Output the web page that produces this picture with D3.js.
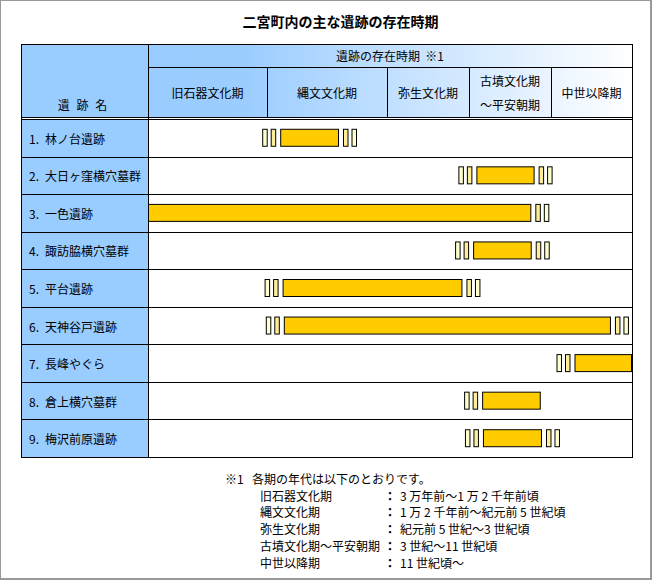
<!DOCTYPE html>
<html><head><meta charset="utf-8">
<script src="https://cdn.jsdelivr.net/npm/d3@7"></script>
<style>
html,body{margin:0;padding:0;background:#fff;}
svg{display:block;}
text{font-family:"Noto Sans CJK JP","Noto Sans",sans-serif;fill:#000;white-space:pre;}
</style></head>
<body>
<svg id="chart" width="652" height="580"></svg>
<script>
// ---- data ----
const title = "二宮町内の主な遺跡の存在時期";
const headerTop = "遺跡の存在時期  ※1";
const nameHeader = "遺 跡 名";
const periods = ["旧石器文化期", "縄文文化期", "弥生文化期", "古墳文化期|～平安朝期", "中世以降期"];
const sites = ["1. 林ノ台遺跡", "2. 大日ヶ窪横穴墓群", "3. 一色遺跡", "4. 諏訪脇横穴墓群",
  "5. 平台遺跡", "6. 天神谷戸遺跡", "7. 長峰やぐら", "8. 倉上横穴墓群", "9. 梅沢前原遺跡"];
// start / end measured in period units (0 = start of 旧石器, 5 = end of 中世以降)
const startVals = [1.11, 3.09, 0.00, 3.05, 1.13, 1.14, 4.29, 3.16, 3.17];
const endVals   = [1.60, 3.80, 3.76, 3.765, 2.92, 4.74, 5.00, 3.875, 3.89];
const startUncertain = [true, true, false, true, true, true, true, true, true];
const endUncertain   = [true, true, true, true, true, true, false, false, true];
const noteMark = "※1";
const noteHead = "各期の年代は以下のとおりです。";
const noteTerms = ["旧石器文化期", "縄文文化期", "弥生文化期", "古墳文化期～平安朝期", "中世以降期"];
const noteRanges = ["3 万年前～1 万 2 千年前頃", "1 万 2 千年前～紀元前 5 世紀頃", "紀元前 5 世紀～3 世紀頃", "3 世紀～11 世紀頃", "11 世紀頃～"];

// ---- layout ----
const svg = d3.select("#chart");
const L = 21, R = 632, T = 44, H1 = 67, H2 = 117, B0 = 119, B = 457, NC = 148;
const colEdges = [148, 267, 387, 469, 551, 632];
const x = d3.scaleLinear().domain(d3.range(colEdges.length)).range(colEdges);
const y = d3.scaleBand().domain(sites).range([B0, B]);
const barH = 18;
const FS = 12;

// frame
svg.append("rect").attr("x", 0.5).attr("y", 0.5).attr("width", 650).attr("height", 578)
  .attr("fill", "#fff").attr("stroke", "#999").attr("stroke-width", 1);
svg.append("line").attr("x1", 651.5).attr("x2", 651.5).attr("y1", 0).attr("y2", 580).attr("stroke", "#999");
svg.append("line").attr("x1", 0).attr("x2", 652).attr("y1", 579.5).attr("y2", 579.5).attr("stroke", "#999");

// title
svg.append("text").attr("x", 340.5).attr("y", 21).attr("text-anchor", "middle")
  .attr("dominant-baseline", "central").attr("font-size", 14).attr("font-weight", "bold").text(title);

// gradient
const defs = svg.append("defs");
const g = defs.append("linearGradient").attr("id", "hg").attr("gradientUnits", "userSpaceOnUse")
  .attr("x1", NC).attr("x2", R).attr("y1", 0).attr("y2", 0);
g.append("stop").attr("offset", "0%").attr("stop-color", "#99ccff");
g.append("stop").attr("offset", "20%").attr("stop-color", "#9ccdff");
g.append("stop").attr("offset", "100%").attr("stop-color", "#ffffff");

// header backgrounds
svg.append("rect").attr("x", NC).attr("y", T).attr("width", R - NC).attr("height", H2 - T).attr("fill", "url(#hg)");
svg.append("rect").attr("x", L).attr("y", T).attr("width", NC - L).attr("height", B - T).attr("fill", "#99ccff");
svg.append("rect").attr("x", NC).attr("y", B0).attr("width", R - NC).attr("height", B - B0).attr("fill", "#fff");
svg.append("rect").attr("x", L).attr("y", H2).attr("width", R - L).attr("height", B0 - H2).attr("fill", "#fff");

// header texts
svg.append("text").attr("x", (NC + R) / 2).attr("y", (T + H1) / 2).attr("text-anchor", "middle")
  .attr("dominant-baseline", "central").attr("font-size", FS).text(headerTop);
svg.append("text").attr("x", (L + NC) / 2 - 1).attr("y", 104).attr("text-anchor", "middle")
  .attr("dominant-baseline", "central").attr("font-size", FS).attr("letter-spacing", 2).text(nameHeader);
periods.forEach((p, i) => {
  const cx = (x(i) + x(i + 1)) / 2;
  const parts = p.split("|");
  parts.forEach((s, j) => {
    const cy = parts.length === 1 ? 92 : (j === 0 ? 80 : 104);
    svg.append("text").attr("x", cx).attr("y", cy).attr("text-anchor", "middle")
      .attr("dominant-baseline", "central").attr("font-size", FS).text(s);
  });
});

// row labels (number, then name)
const lab = svg.append("g").selectAll("text").data(sites).join("text")
  .attr("y", d => y(d) + y.bandwidth() / 2)
  .attr("dominant-baseline", "central").attr("font-size", FS);
lab.append("tspan").attr("x", 29).text(d => d.split(" ")[0]);
lab.append("tspan").attr("x", 45).text(d => d.split(" ").slice(1).join(" "));

// bars
const barG = svg.append("g");
sites.forEach((s, i) => {
  const xs = x(startVals[i]), xe = x(endVals[i]);
  const yc = y(s) + y.bandwidth() / 2;
  const yt = yc - barH / 2;
  const small = [];
  if (startUncertain[i]) {
    small.push({a: xs - 18, b: xs - 12.5, c: "#ffffcc"});
    small.push({a: xs - 9.5, b: xs - 4, c: "#ffee99"});
  }
  if (endUncertain[i]) {
    small.push({a: xe + 4, b: xe + 9.5, c: "#ffee99"});
    small.push({a: xe + 12.5, b: xe + 18, c: "#ffffcc"});
  }
  small.forEach(m => {
    barG.append("rect").attr("x", m.a + 0.5).attr("y", yt + 0.5).attr("width", m.b - m.a - 1)
      .attr("height", barH - 1).attr("fill", m.c).attr("stroke", "#000").attr("stroke-width", 1);
  });
  barG.append("rect").attr("x", xs + 0.5).attr("y", yt + 0.5).attr("width", xe - xs - 1)
    .attr("height", barH - 1).attr("fill", "#ffcc00").attr("stroke", "#000").attr("stroke-width", 1);
});

// grid lines
const lines = svg.append("g").attr("stroke", "#000").attr("stroke-width", 1).attr("fill", "none");
sites.forEach((s, i) => {
  if (i > 0) {
    const yy = Math.round(y(s)) + 0.5;
    lines.append("line").attr("x1", L).attr("x2", R).attr("y1", yy).attr("y2", yy);
  }
});
lines.append("line").attr("x1", NC).attr("x2", R).attr("y1", H1 + 0.5).attr("y2", H1 + 0.5);
lines.append("line").attr("x1", L).attr("x2", R).attr("y1", H2 + 0.5).attr("y2", H2 + 0.5);
lines.append("line").attr("x1", L).attr("x2", R).attr("y1", B0 + 0.5).attr("y2", B0 + 0.5);
colEdges.slice(1, -1).forEach(e => {
  lines.append("line").attr("x1", e + 0.5).attr("x2", e + 0.5).attr("y1", H1).attr("y2", H2);
});
lines.append("line").attr("x1", NC + 0.5).attr("x2", NC + 0.5).attr("y1", T).attr("y2", B);
lines.append("rect").attr("x", L + 0.5).attr("y", T + 0.5).attr("width", R - L).attr("height", B - T);

// footnote
svg.append("text").attr("x", 225).attr("y", 478).attr("dominant-baseline", "central")
  .attr("font-size", FS).text(noteMark);
svg.append("text").attr("x", 252).attr("y", 478).attr("dominant-baseline", "central")
  .attr("font-size", FS).text(noteHead);
noteTerms.forEach((t, i) => {
  const yy = 495 + i * 16.8;
  svg.append("text").attr("x", 260).attr("y", yy).attr("dominant-baseline", "central").attr("font-size", FS).text(t);
  svg.append("text").attr("x", 384).attr("y", yy).attr("dominant-baseline", "central").attr("font-size", FS).attr("font-weight", "bold").text("：");
  svg.append("text").attr("x", 400).attr("y", yy).attr("dominant-baseline", "central").attr("font-size", FS).text(noteRanges[i]);
});
</script>
</body></html>
